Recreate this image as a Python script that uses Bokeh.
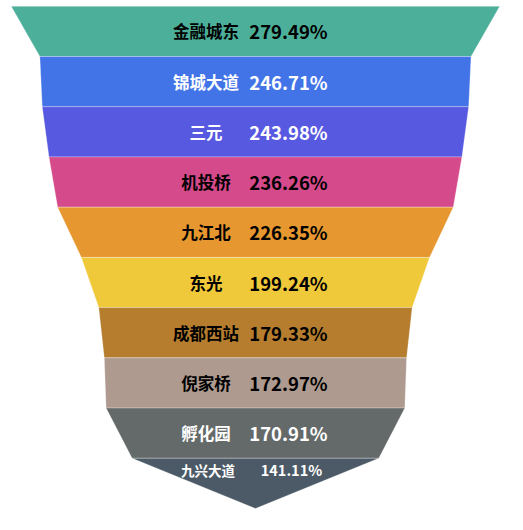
from bokeh.plotting import figure
from bokeh.models import Range1d, ColumnDataSource
from bokeh.core.properties import value
from bokeh.embed import file_html
from bokeh.resources import INLINE

# Data
stations = ["金融城东", "锦城大道", "三元", "机投桥", "九江北", "东光", "成都西站", "倪家桥", "孵化园", "九兴大道"]
rates = [279.49, 246.71, 243.98, 236.26, 226.35, 199.24, 179.33, 172.97, 170.91, 141.11]

# Styles
colors = ["#4CAF99", "#4274E8", "#5759E1", "#D54A8B", "#E6972F", "#F0C93A",
          "#B57D2D", "#AE9A8F", "#646A69", "#4B5A66"]
text_colors = ["black", "white", "white", "black", "black", "black",
               "black", "black", "white", "white"]

W, H = 507, 514
k = 507 / 523.0
scale = 1.803 * k      # px per unit
cx = 263 * k           # funnel centre, px
top_px = 6 * k
band_px = 51.8 * k
n = len(rates)

x_range = Range1d(-cx / scale, (W - cx) / scale)
y_range = Range1d((H - top_px) / band_px, -top_px / band_px)

p = figure(width=W, height=H, output_backend="svg", toolbar_location=None,
           x_range=x_range, y_range=y_range, min_border=0)
p.axis.visible = False
p.grid.visible = False
p.outline_line_color = None
p.background_fill_color = "white"
p.border_fill_color = "white"

xs, ys = [], []
for i in range(n):
    t = rates[i] / 2
    b = rates[i + 1] / 2 if i + 1 < n else 0
    xs.append([-t, t, b, -b])
    ys.append([i, i, i + 1, i + 1])

src = ColumnDataSource(dict(xs=xs, ys=ys, color=colors))
p.patches("xs", "ys", source=src, fill_color="color", line_color="white",
          line_alpha=0.35, line_width=0.8)

font = value("Noto Sans CJK SC")
lab = ColumnDataSource(dict(
    x=[0] * (n - 1), y=[i + 0.5 for i in range(n - 1)], name=stations[:n - 1],
    val=["%.2f%%" % r for r in rates[:n - 1]], tc=text_colors[:n - 1]))
p.text(x="x", y="y", text="name", source=lab, x_offset=-49.5, text_align="center",
       text_baseline="middle", text_color="tc", text_font=font,
       text_font_size="16.5px", text_font_style="bold")
p.text(x="x", y="y", text="val", source=lab, x_offset=33, text_align="center",
       text_baseline="middle", text_color="tc", text_font=font,
       text_font_size="18.5px", text_font_style="bold")

last = ColumnDataSource(dict(
    x=[0], y=[n - 1 + 0.23], name=[stations[-1]],
    val=["%.2f%%" % rates[-1]], tc=[text_colors[-1]]))
p.text(x="x", y="y", text="name", source=last, x_offset=-47.5, text_align="center",
       text_baseline="middle", text_color="tc", text_font=font,
       text_font_size="13.5px", text_font_style="bold")
p.text(x="x", y="y", text="val", source=last, x_offset=36, text_align="center",
       text_baseline="middle", text_color="tc", text_font=font,
       text_font_size="14.5px", text_font_style="bold")

open("out.html", "w").write(file_html(p, INLINE))
